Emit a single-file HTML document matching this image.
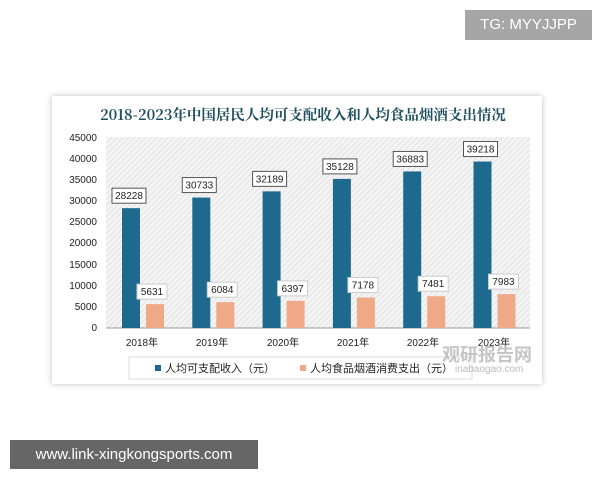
<!DOCTYPE html>
<html><head><meta charset="utf-8"><style>
body{margin:0;width:600px;height:480px;background:#fff;position:relative;overflow:hidden;font-family:"Liberation Sans","Noto Sans CJK SC",sans-serif}
.tg{position:absolute;left:465px;top:10px;width:127px;height:30px;background:#a6a6a6;color:#fff;font-size:15px;line-height:30px;text-align:center}
.url{position:absolute;left:10px;top:440px;width:248px;height:29px;background:#666;color:#fff;font-size:15px;line-height:29px;text-align:center}
.card{position:absolute;left:52px;top:96px;width:490px;height:288px;background:#fff;box-shadow:0 0 6px rgba(0,0,0,.25)}
</style></head><body>
<div class="tg">TG: MYYJJPP</div>
<div class="card"></div>
<svg style="position:absolute;left:0;top:0" width="600" height="480">
<defs><pattern id="h" width="4" height="4" patternUnits="userSpaceOnUse" patternTransform="rotate(45)"><rect width="4" height="4" fill="#f4f4f4"/><line x1="0" y1="0" x2="0" y2="4" stroke="#d8d8d8" stroke-width="1.2"/></pattern></defs>
<text x="303" y="120" text-anchor="middle" font-family="Noto Serif CJK SC,serif" font-weight="bold" font-size="14.5" fill="#1f4e5f">2018-2023年中国居民人均可支配收入和人均食品烟酒支出情况</text>
<rect x="106" y="137" width="424" height="191" fill="url(#h)"/>
<line x1="106" y1="328" x2="530" y2="328" stroke="#999"/>
<g font-size="10" fill="#222" text-anchor="end">
<text x="97" y="141">45000</text><text x="97" y="162">40000</text><text x="97" y="183">35000</text><text x="97" y="204">30000</text><text x="97" y="225">25000</text><text x="97" y="246">20000</text><text x="97" y="268">15000</text><text x="97" y="289">10000</text><text x="97" y="310">5000</text><text x="97" y="331">0</text>
</g>
<g id="bars" font-size="10" text-anchor="middle" fill="#222"></g>
<g font-size="10" fill="#222" text-anchor="middle">
<text x="142" y="346">2018年</text><text x="212" y="346">2019年</text><text x="283" y="346">2020年</text><text x="353" y="346">2021年</text><text x="423" y="346">2022年</text><text x="494" y="346">2023年</text>
</g>
<rect x="129" y="357" width="343" height="22" fill="#fff" stroke="#ddd"/>
<rect x="155" y="365" width="6" height="6" fill="#1d6a8e"/>
<text x="165" y="372" font-size="11" fill="#222">人均可支配收入（元）</text>
<rect x="300" y="365" width="6" height="6" fill="#f0a987"/>
<text x="310" y="372" font-size="11" fill="#222">人均食品烟酒消费支出（元）</text>
<text x="442" y="361" font-size="18" font-weight="bold" fill="#bbb" opacity="0.85">观研报告网</text>
<text x="455" y="372" font-size="10" fill="#bbb">inabaogao.com</text>
</svg>
<div class="url">www.link-xingkongsports.com</div>
<script>
var a=[28228,30733,32189,35128,36883,39218],b=[5631,6084,6397,7178,7481,7983],g=document.getElementById('bars'),s='';
function y(v){return 328-v*191/45000}
for(var i=0;i<6;i++){var x=122+70.3*i,x2=146+70.3*i;
s+='<rect x="'+x+'" y="'+y(a[i])+'" width="18" height="'+(328-y(a[i]))+'" fill="#1d6a8e"/>';
s+='<rect x="'+x2+'" y="'+y(b[i])+'" width="18" height="'+(328-y(b[i]))+'" fill="#f0a987"/>';
s+='<rect x="'+(x-10)+'" y="'+(y(a[i])-20)+'" width="34" height="15" fill="#fff" stroke="#555"/><text x="'+(x+7)+'" y="'+(y(a[i])-9)+'">'+a[i]+'</text>';
s+='<rect x="'+(x2-9)+'" y="'+(y(b[i])-20)+'" width="30" height="15" fill="#fff" stroke="#ccc"/><text x="'+(x2+6)+'" y="'+(y(b[i])-9)+'">'+b[i]+'</text>';}
g.innerHTML=s;
</script>
</body></html>
